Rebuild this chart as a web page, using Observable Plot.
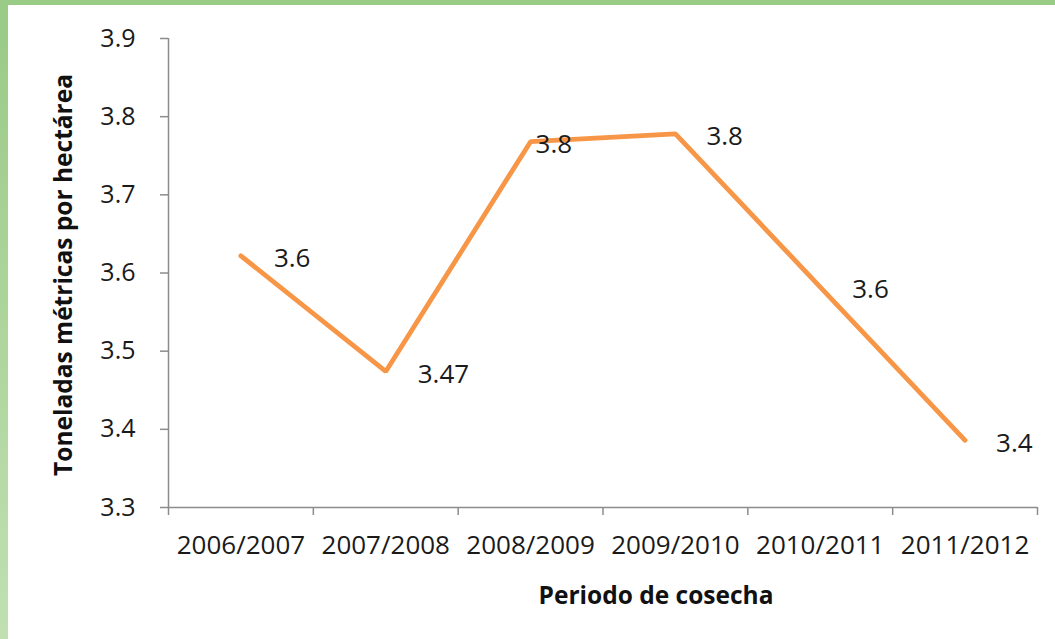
<!DOCTYPE html>
<html>
<head>
<meta charset="utf-8">
<script src="https://cdn.jsdelivr.net/npm/d3@7"></script>
<script src="https://cdn.jsdelivr.net/npm/@observablehq/plot@0.6"></script>
<style>
  html, body { margin: 0; padding: 0; background: #ffffff; }
  #wrap { position: relative; width: 1055px; height: 639px; overflow: hidden; }
  #topbar { position: absolute; left: 0; top: 0; width: 1055px; height: 5px; background: #99ca86; }
  #leftbar { position: absolute; left: 0; top: 0; width: 8px; height: 639px;
             background: linear-gradient(to bottom, #99ca86, #c0e0b2); }
  #chart svg { overflow: visible; }
</style>
</head>
<body>
<div id="wrap">
  <div id="chart"></div>
  <div id="topbar"></div>
  <div id="leftbar"></div>
</div>
<script>
const periods = ["2006/2007", "2007/2008", "2008/2009", "2009/2010", "2010/2011", "2011/2012"];
const yields = [3.622, 3.474, 3.768, 3.778, 3.582, 3.386];
const labels = ["3.6", "3.47", "3.8", "3.8", "3.6", "3.4"];
const yTicks = [3.3, 3.4, 3.5, 3.6, 3.7, 3.8, 3.9];
const xTitle = "Periodo de cosecha";
const yTitle = "Toneladas métricas por hectárea";

const data = periods.map((p, i) => ({i: i + 0.5, period: p, value: yields[i], label: labels[i]}));
const labelDx = [33, 32, 5, 31, 32, 31];

const font = "'Open Sans', sans-serif";
const axisColor = "#8c8c8c";
const textColor = "#1a1a1a";

const chart = Plot.plot({
  width: 1055,
  height: 639,
  marginLeft: 168,
  marginRight: 18,
  marginTop: 38,
  marginBottom: 132,
  style: {fontFamily: font, fontSize: "26px", color: textColor, background: "transparent", overflow: "visible"},
  x: {type: "linear", domain: [0, periods.length]},
  y: {domain: [3.3, 3.9]},
  marks: [
    Plot.axisX(d3.range(0, periods.length + 1), {
      tickSize: 8, tickFormat: () => "", stroke: axisColor, strokeWidth: 1.5, label: null
    }),
    Plot.axisX(data.map(d => d.i), {
      tickSize: 0, tickPadding: 28, tickFormat: (d) => periods[Math.round(d - 0.5)],
      fontSize: 26, fill: textColor, label: null
    }),
    Plot.axisY(yTicks, {
      tickSize: 8, tickPadding: 25, tickFormat: d3.format(".1f"), stroke: axisColor, strokeWidth: 1.5,
      fontSize: 25, fill: textColor, label: null
    }),
    Plot.ruleX([0], {stroke: axisColor, strokeWidth: 1.5}),
    Plot.ruleY([3.3], {stroke: axisColor, strokeWidth: 1.5, x1: 0, x2: periods.length}),
    Plot.lineY(data, {x: "i", y: "value", stroke: "#f79646", strokeWidth: 4.8,
      strokeLinecap: "round", strokeLinejoin: "miter"}),
    ...data.map((d, k) => Plot.text([d], {x: "i", y: "value", text: "label", dx: labelDx[k], dy: 3,
      textAnchor: "start", fontSize: 26, fill: textColor})),
    Plot.text([xTitle], {frameAnchor: "bottom", dx: 53, dy: 89, fontWeight: "bold",
      fontSize: 24.5, fill: "#111", lineAnchor: "middle"}),
    Plot.text([yTitle], {frameAnchor: "left", textAnchor: "middle", dx: -104, dy: 2, rotate: -90,
      fontWeight: "bold", fontSize: 24.5, fill: "#111", lineAnchor: "middle"})
  ]
});

document.getElementById("chart").appendChild(chart);
</script>
</body>
</html>
